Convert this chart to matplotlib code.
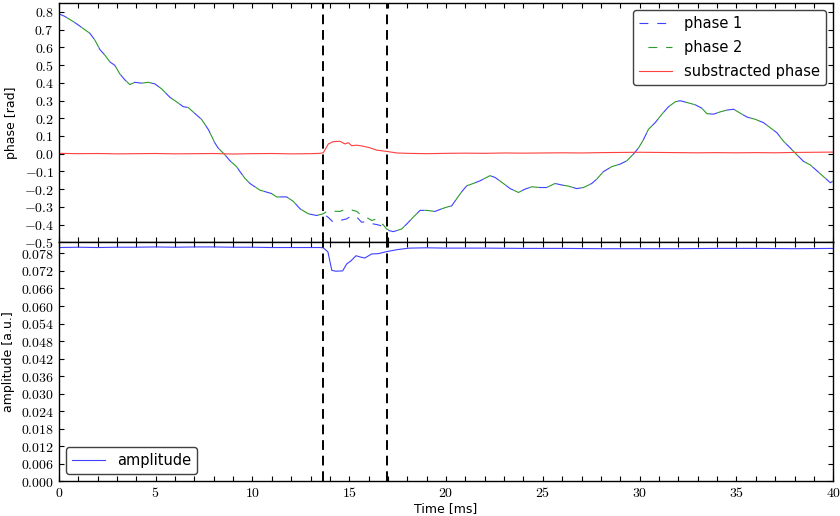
import matplotlib
matplotlib.use("Agg")
import matplotlib.pyplot as plt
from matplotlib.ticker import MultipleLocator, FuncFormatter

plt.rcParams['mathtext.fontset'] = 'cm'
plt.rcParams['font.family'] = 'DejaVu Sans'

# phase data (time in ms, phase in rad)
time = [0.0, 0.31, 0.74, 1.0, 1.34, 1.6, 1.86, 2.12, 2.38, 2.64, 2.89, 3.15, 3.41, 3.67,
        3.93, 4.27, 4.62, 4.96, 5.31, 5.74, 6.08, 6.43, 6.68, 7.11, 7.37, 7.72, 8.06, 8.23,
        8.58, 8.84, 9.18, 9.35, 9.61, 9.87, 10.39, 10.99, 11.25, 11.77, 12.11, 12.46, 12.88,
        13.32, 13.66, 13.92, 14.18, 14.52, 14.87, 15.13, 15.39, 15.64, 15.9, 16.16, 16.42,
        16.76, 16.93, 17.28, 17.71, 17.97, 18.31, 18.66, 19.0, 19.43, 19.78, 20.12, 20.29,
        20.55, 20.81, 21.07, 21.41, 21.76, 22.27, 22.53, 22.96, 23.31, 23.74, 24.08, 24.43,
        24.86, 25.2, 25.63, 25.98, 26.32, 26.75, 27.1, 27.53, 27.79, 28.13, 28.56, 28.99,
        29.34, 29.68, 29.94, 30.2, 30.45, 30.8, 31.15, 31.49, 31.84, 32.09, 32.44, 32.87,
        33.21, 33.47, 33.81, 34.16, 34.51, 34.85, 35.19, 35.54, 35.97, 36.4, 36.75, 37.09,
        37.43, 37.78, 38.12, 38.47, 38.81, 39.16, 39.5, 39.85, 40.0]

phase1 = [0.79, 0.775, 0.746, 0.727, 0.70, 0.68, 0.642, 0.588, 0.556, 0.518, 0.499, 0.451,
          0.417, 0.39, 0.403, 0.398, 0.403, 0.394, 0.366, 0.318, 0.293, 0.265, 0.261, 0.219,
          0.194, 0.137, 0.061, 0.032, -0.006, -0.04, -0.073, -0.10, -0.139, -0.168, -0.206,
          -0.225, -0.244, -0.244, -0.269, -0.311, -0.339, -0.349, -0.339, -0.36, -0.387,
          -0.377, -0.368, -0.349, -0.358, -0.387, -0.383, -0.395, -0.40, -0.41, -0.431,
          -0.44, -0.425, -0.397, -0.358, -0.32, -0.32, -0.326, -0.311, -0.299, -0.295,
          -0.254, -0.215, -0.181, -0.168, -0.153, -0.124, -0.134, -0.168, -0.197, -0.219,
          -0.2, -0.187, -0.191, -0.191, -0.168, -0.177, -0.183, -0.197, -0.191, -0.168,
          -0.143, -0.101, -0.073, -0.059, -0.04, -0.002, 0.032, 0.08, 0.137, 0.175, 0.223,
          0.265, 0.293, 0.299, 0.289, 0.276, 0.257, 0.226, 0.223, 0.236, 0.246, 0.251, 0.229,
          0.207, 0.194, 0.175, 0.146, 0.118, 0.07, 0.032, -0.006, -0.044, -0.063, -0.097,
          -0.13, -0.164, -0.154]

phase2 = [0.79, 0.775, 0.746, 0.727, 0.70, 0.68, 0.642, 0.588, 0.556, 0.518, 0.499, 0.451,
          0.417, 0.39, 0.403, 0.398, 0.403, 0.394, 0.366, 0.318, 0.293, 0.265, 0.261, 0.219,
          0.194, 0.137, 0.061, 0.032, -0.006, -0.04, -0.073, -0.10, -0.139, -0.168, -0.206,
          -0.225, -0.244, -0.244, -0.269, -0.311, -0.339, -0.349, -0.339, -0.32, -0.325,
          -0.326, -0.311, -0.318, -0.326, -0.349, -0.36, -0.377, -0.368, -0.402, -0.425,
          -0.44, -0.425, -0.397, -0.358, -0.32, -0.32, -0.326, -0.311, -0.299, -0.295,
          -0.254, -0.215, -0.181, -0.168, -0.153, -0.124, -0.134, -0.168, -0.197, -0.219,
          -0.2, -0.187, -0.191, -0.191, -0.168, -0.177, -0.183, -0.197, -0.191, -0.168,
          -0.143, -0.101, -0.073, -0.059, -0.04, -0.002, 0.032, 0.08, 0.137, 0.175, 0.223,
          0.265, 0.293, 0.299, 0.289, 0.276, 0.257, 0.226, 0.223, 0.236, 0.246, 0.251, 0.229,
          0.207, 0.194, 0.175, 0.146, 0.118, 0.07, 0.032, -0.006, -0.044, -0.063, -0.097,
          -0.13, -0.164, -0.154]

# substracted phase
sub_time = [0, 1, 2, 3, 4, 5, 6, 7, 8, 9, 10, 11, 12, 13, 13.5, 13.66, 13.92, 14.18, 14.52,
            14.78, 14.95, 15.13, 15.39, 15.73, 16.07, 16.42, 16.93, 17.45, 18, 19, 20, 21,
            22, 23, 24, 25, 26, 27, 28, 29, 30, 31, 32, 33, 34, 35, 36, 37, 38, 39, 40]
sub_phase = [0.002, 0.0, 0.001, -0.001, 0.0, 0.001, -0.001, 0.0, 0.001, -0.002, 0.0, 0.001,
             -0.001, 0.0, 0.002, 0.005, 0.055, 0.068, 0.07, 0.055, 0.062, 0.045, 0.048,
             0.042, 0.033, 0.02, 0.013, 0.004, 0.002, 0.0, 0.002, 0.003, 0.002, 0.004, 0.003,
             0.004, 0.005, 0.004, 0.006, 0.007, 0.008, 0.007, 0.006, 0.005, 0.006, 0.005,
             0.006, 0.005, 0.007, 0.008, 0.009]

# amplitude
amp_time = [0, 1, 2, 3, 4, 5, 6, 7, 8, 9, 10, 11, 12, 13, 13.5, 13.66, 13.9, 14.1, 14.3,
            14.66, 14.87, 15.1, 15.35, 15.55, 15.8, 16.16, 16.5, 16.93, 17.5, 18.1, 19, 20,
            22, 24, 26, 28, 30, 32, 34, 36, 38, 40]
amplitude = [0.0800, 0.0801, 0.0800, 0.0801, 0.0801, 0.0802, 0.0801, 0.0802, 0.0802, 0.0801,
             0.0801, 0.0800, 0.0800, 0.0800, 0.0800, 0.0799, 0.0785, 0.0722, 0.0719, 0.0720,
             0.0744, 0.0755, 0.0772, 0.0768, 0.0764, 0.0778, 0.0779, 0.0786, 0.0793, 0.0798,
             0.0799, 0.0798, 0.0798, 0.0797, 0.0797, 0.0796, 0.0796, 0.0796, 0.0797, 0.0797,
             0.0796, 0.0797]

markers = [13.66, 16.93]

blue = '#3f3fff'
green = '#2a9a2a'
red = '#ff3f3f'

fig, (ax1, ax2) = plt.subplots(2, 1, sharex=True, figsize=(8.4, 5.16), dpi=100)
fig.subplots_adjust(left=0.070, right=0.992, bottom=0.067, top=0.994, hspace=0)

ax1.plot(time, phase1, color=blue, lw=0.8, linestyle=(0, (8, 8)), label='phase 1')
ax1.plot(time, phase2, color=green, lw=0.8, linestyle=(8, (8, 8)), label='phase 2')
ax1.plot(sub_time, sub_phase, color=red, lw=0.8, label='substracted phase')
ax2.plot(amp_time, amplitude, color=blue, lw=0.8, label='amplitude')

for ax in (ax1, ax2):
    for m in markers:
        ax.axvline(m, color='k', lw=1.4, dashes=(5, 3))
    ax.tick_params(which='both', direction='in', top=True, right=True,
                   length=3.5, width=0.8, labelsize=10)
    ax.xaxis.set_minor_locator(MultipleLocator(1))
    for s in ax.spines.values():
        s.set_linewidth(1.0)

ax1.set_xlim(0, 40)
ax1.set_ylim(-0.5, 0.85)
ax1.yaxis.set_major_locator(MultipleLocator(0.1))
ax1.yaxis.set_major_formatter(FuncFormatter(lambda v, p: r'$%.1f$' % v))
ax1.tick_params(labelbottom=False)
ax1.set_ylabel('phase [rad]', fontsize=9)

ax2.set_ylim(0, 0.0818)
ax2.yaxis.set_major_locator(MultipleLocator(0.006))
ax2.yaxis.set_major_formatter(FuncFormatter(lambda v, p: r'$%.3f$' % v))
ax2.xaxis.set_major_locator(MultipleLocator(5))
ax2.xaxis.set_major_formatter(FuncFormatter(lambda v, p: r'$%d$' % v))
ax2.set_ylabel('amplitude [a.u.]', fontsize=9)
ax2.set_xlabel('Time [ms]', fontsize=9, labelpad=1)

leg1 = ax1.legend(loc='upper right', fontsize=10.5, handlelength=2.3, labelspacing=0.6,
                  fancybox=True, framealpha=1, edgecolor='0.25', borderaxespad=0.5)
leg2 = ax2.legend(loc='lower left', fontsize=10.5, handlelength=2.3, fancybox=True,
                  framealpha=1, edgecolor='0.25', borderaxespad=0.5)
for leg in (leg1, leg2):
    leg.get_frame().set_linewidth(1.0)

fig.savefig('out.png', dpi=100)
